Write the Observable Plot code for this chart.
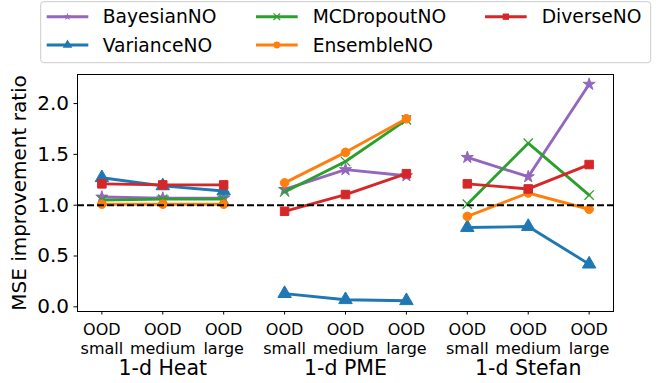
<!DOCTYPE html>
<html><head><meta charset="utf-8">
<script src="https://cdn.jsdelivr.net/npm/d3@7"></script>
<script src="https://cdn.jsdelivr.net/npm/@observablehq/plot@0.6"></script>
<style>
body{margin:0;background:#fff;}
#wrap{position:relative;width:663px;height:383px;font-family:"DejaVu Sans",sans-serif;color:#000;}
#wrap svg{position:absolute;left:0;top:0;}
</style></head><body><div id="wrap"></div>
<script>
const groups = ["1-d Heat", "1-d PME", "1-d Stefan"];
const levels = ["OOD\nsmall", "OOD\nmedium", "OOD\nlarge"];
const seriesNames = ["BayesianNO", "VarianceNO", "MCDropoutNO", "EnsembleNO", "DiverseNO"];
const colors = ["#9467bd", "#1f77b4", "#2ca02c", "#ff7f0e", "#d62728"];
const symbols = ["star", "triangle", "times", "circle", "square"];

// values per series: Heat (small, medium, large), PME (...), Stefan (...)
const bayesian  = [1.08, 1.07, 1.07, 1.155, 1.35, 1.29, 1.47, 1.28, 2.19];
const variance  = [1.27, 1.19, 1.14, 0.13, 0.07, 0.06, 0.78, 0.79, 0.42];
const mcdropout = [1.05, 1.06, 1.06, 1.13, 1.43, 1.84, 1.01, 1.61, 1.10];
const ensemble  = [1.01, 1.01, 1.01, 1.22, 1.52, 1.85, 0.89, 1.12, 0.96];
const diverse   = [1.21, 1.20, 1.20, 0.94, 1.105, 1.31, 1.21, 1.16, 1.40];

const seriesValues = [bayesian, variance, mcdropout, ensemble, diverse];
const rows = [];
seriesValues.forEach((vals, s) => vals.forEach((v, i) =>
  rows.push({series: seriesNames[s], s, i, group: Math.floor(i / 3), value: v})));

const dotR = [3.8, 5, 4.3, 4.3, 4.8];
const marks = [];
seriesNames.forEach((name, s) => {
  const data = rows.filter(d => d.s === s);
  marks.push(Plot.line(data, {x: "i", y: "value", z: "group", stroke: colors[s], strokeWidth: 2.9}));
  if (symbols[s] === "times") {
    marks.push(Plot.dot(data, {x: "i", y: "value", symbol: "times", r: dotR[s], fill: "none", stroke: colors[s], strokeWidth: 1.3}));
  } else {
    marks.push(Plot.dot(data, {x: "i", y: "value", symbol: symbols[s], r: dotR[s], fill: colors[s], stroke: colors[s], strokeWidth: 1}));
  }
});

const chart = Plot.plot({
  width: 663, height: 383,
  marginTop: 74, marginLeft: 77, marginRight: 50, marginBottom: 72,
  style: {fontFamily: "DejaVu Sans", fontSize: "20px", color: "#000", background: "transparent"},
  x: {domain: [-0.4, 8.4]},
  y: {domain: [-0.046, 2.286]},
  marks: [
    ...marks,
    Plot.ruleY([1], {stroke: "black", strokeWidth: 2, strokeDasharray: "7,3"}),
    Plot.frame({stroke: "black", strokeWidth: 1}),
    Plot.axisX({ticks: d3.range(9), tickFormat: i => levels[i % 3], tickSize: 3.5, tickPadding: 6, fontSize: 16, lineHeight: 1.2, label: null}),
    Plot.axisX({ticks: [1, 4, 7], tickFormat: i => groups[(i - 1) / 3], tickSize: 0, tickPadding: 49, fontSize: 20.5, label: null}),
    Plot.axisY({ticks: [0, 0.5, 1, 1.5, 2], tickFormat: d3.format(".1f"), tickSize: 3.5, tickPadding: 5, fontSize: 20,
      label: "MSE improvement ratio", labelAnchor: "center", labelArrow: "none", labelOffset: 66})
  ]
});
document.getElementById("wrap").appendChild(chart);

// legend overlay
const leg = d3.select("#wrap").append("svg").attr("width", 663).attr("height", 70)
  .style("font-family", "DejaVu Sans");
leg.append("rect").attr("x", 40.7).attr("y", 1.7).attr("width", 610).attr("height", 61).attr("rx", 3)
  .attr("fill", "white").attr("fill-opacity", 0.8).attr("stroke", "#cccccc").attr("stroke-width", 1);
const cols = [{l0: 46.7, l1: 88.3, t: 102.7}, {l0: 256, l1: 297.7, t: 312.7}, {l0: 485, l1: 526.7, t: 541.7}];
const rowY = [16.7, 45];
const d3sym = {star: d3.symbolStar, triangle: d3.symbolTriangle, circle: d3.symbolCircle, square: d3.symbolSquare, times: d3.symbolTimes};
const legSize = [18, 40, 30, 36, 40];
seriesNames.forEach((name, s) => {
  const c = cols[Math.floor(s / 2)], y = rowY[s % 2];
  const g = leg.append("g");
  g.append("line").attr("x1", c.l0).attr("x2", c.l1).attr("y1", y).attr("y2", y)
    .attr("stroke", colors[s]).attr("stroke-width", 2.9);
  const cx = (c.l0 + c.l1) / 2;
  const p = g.append("path").attr("transform", `translate(${cx},${y})`)
    .attr("d", d3.symbol(d3sym[symbols[s]], legSize[s])());
  if (symbols[s] === "times") p.attr("fill", "none").attr("stroke", colors[s]).attr("stroke-width", 1.2);
  else p.attr("fill", colors[s]);
  g.append("text").attr("x", c.t).attr("y", y).attr("dy", "0.36em").attr("font-size", 18.7).attr("fill", "#000").text(name);
});
</script></body></html>
